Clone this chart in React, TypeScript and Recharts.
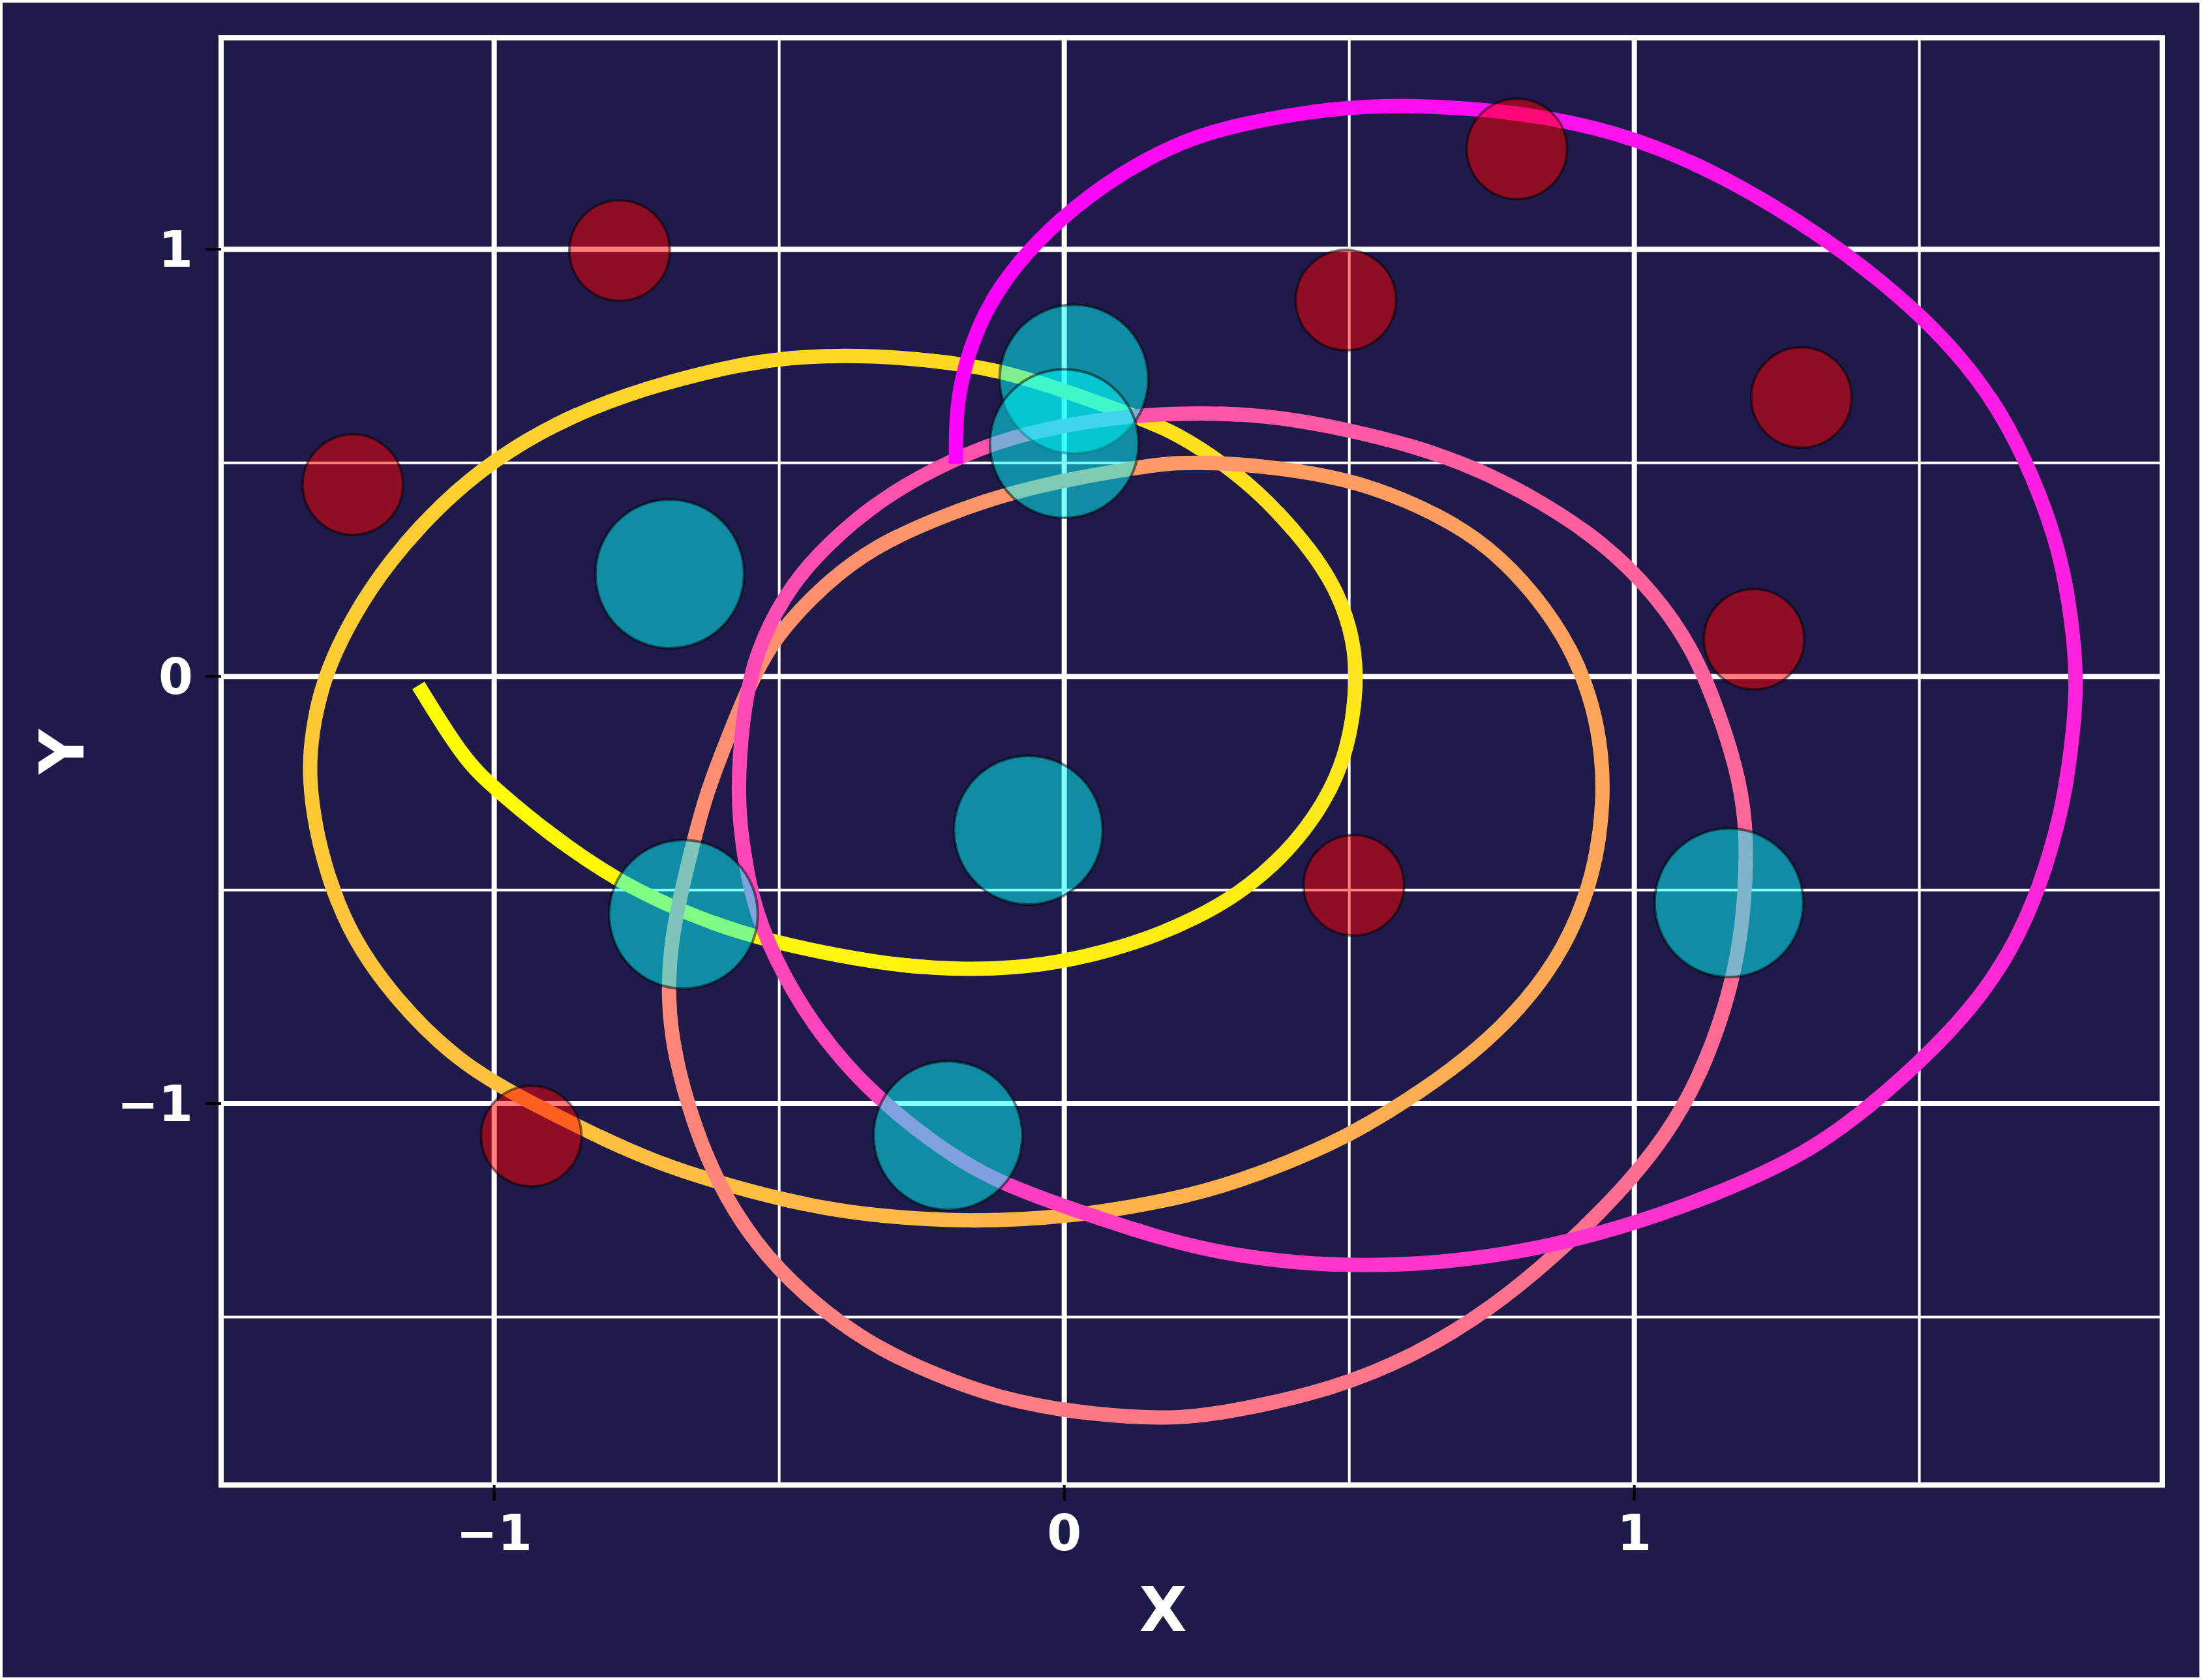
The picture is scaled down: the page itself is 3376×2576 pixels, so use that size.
import React from "react";
import {
  CartesianGrid,
  Label,
  ReferenceArea,
  Scatter,
  ScatterChart,
  XAxis,
  YAxis,
} from "recharts";

// spiral path
const pathX = [
  -1.133, -1.053, -1.0, -0.902, -0.783, -0.662, -0.543, -0.391, -0.283, -0.174,
  -0.065, 0.043, 0.152, 0.227, 0.303, 0.391, 0.459, 0.498, 0.514, 0.508,
  0.481, 0.436, 0.358, 0.281, 0.192, 0.13, 0.0, -0.119, -0.228, -0.358,
  -0.5, -0.63, -0.771, -0.891, -1.0, -1.097, -1.184, -1.249, -1.299, -1.32,
  -1.326,
  -1.31, -1.261, -1.174, -1.065, -0.957, -0.848, -0.717, -0.554, -0.391, -0.228,
  -0.119, 0.043, 0.227, 0.336, 0.469, 0.57, 0.681, 0.769, 0.847, 0.902,
  0.935, 0.946, 0.943, 0.93, 0.891, 0.825, 0.747, 0.658, 0.525, 0.414,
  0.303, 0.192, 0.12, 0.0, -0.119, -0.228, -0.336, -0.42, -0.505, -0.554,
  -0.603,
  -0.63, -0.662, -0.69, -0.696, -0.684, -0.652, -0.609, -0.543, -0.457, -0.348,
  -0.228, -0.109, 0.022, 0.152, 0.227, 0.325, 0.469, 0.613, 0.747, 0.858,
  0.969, 1.057, 1.113, 1.157, 1.185, 1.196, 1.196, 1.18, 1.146, 1.102,
  1.035, 0.946, 0.835, 0.724, 0.613, 0.481, 0.358, 0.237, 0.118, 0.0,
  -0.119, -0.228, -0.326, -0.413, -0.478, -0.532, -0.559, -0.57,
  -0.573, -0.549, -0.51, -0.445, -0.348, -0.228, -0.119, 0.043, 0.192, 0.303,
  0.414, 0.525, 0.658, 0.814, 0.969, 1.135, 1.301, 1.412, 1.523, 1.612,
  1.678, 1.723, 1.751, 1.765, 1.778, 1.767, 1.745, 1.7, 1.645, 1.568,
  1.478, 1.368, 1.246, 1.113, 0.969, 0.814, 0.613, 0.459, 0.303, 0.209,
  0.098, -0.01, -0.087, -0.141, -0.174, -0.19, -0.19,
];

const pathY = [
  -0.021, -0.195, -0.261, -0.371, -0.48, -0.556, -0.612, -0.656, -0.678, -0.687,
  -0.681, -0.656, -0.612, -0.568, -0.513, -0.415, -0.293, -0.173, -0.021, 0.087,
  0.195, 0.292, 0.411, 0.498, 0.573, 0.606, 0.67, 0.719, 0.74, 0.753,
  0.747, 0.713, 0.66, 0.594, 0.508, 0.4, 0.27, 0.14, 0.0, -0.13,
  -0.234,
  -0.392, -0.591, -0.756, -0.9, -0.984, -1.057, -1.14, -1.206, -1.256, -1.273,
  -1.275, -1.261, -1.215, -1.168, -1.096, -1.02, -0.921, -0.821, -0.701, -0.568,
  -0.426, -0.282, -0.188, -0.075, 0.066, 0.195, 0.302, 0.379, 0.453, 0.481,
  0.499, 0.502, 0.487, 0.46, 0.421, 0.368, 0.302, 0.217, 0.098, -0.021,
  -0.188,
  -0.282, -0.447, -0.612, -0.756, -0.887, -1.041, -1.185, -1.328, -1.449, -1.559,
  -1.635, -1.692, -1.724, -1.737, -1.734, -1.713, -1.669, -1.592, -1.482, -1.36,
  -1.218, -1.075, -0.942, -0.789, -0.635, -0.481, -0.337, -0.218, -0.075, 0.066,
  0.195, 0.313, 0.411, 0.487, 0.54, 0.583, 0.611, 0.618, 0.611, 0.589,
  0.551, 0.487, 0.411, 0.313, 0.217, 0.087, -0.043, -0.188,
  -0.325, -0.525, -0.656, -0.811, -0.965, -1.096, -1.185, -1.261, -1.325, -1.356,
  -1.374, -1.38, -1.374, -1.345, -1.295, -1.218, -1.119, -1.009, -0.876, -0.745,
  -0.602, -0.447, -0.304, -0.188, -0.021, 0.14, 0.302, 0.466, 0.617, 0.757,
  0.876, 0.994, 1.102, 1.2, 1.275, 1.319, 1.34, 1.33, 1.292, 1.255,
  1.179, 1.07, 0.962, 0.853, 0.734, 0.627, 0.498,
];

const redX = [-0.78, -1.248, 0.794, 0.494, 1.293, 1.21, 0.508, -0.935];
const redY = [0.997, 0.449, 1.235, 0.881, 0.653, 0.087, -0.489, -1.076];

const cyanX = [-0.692, -0.063, -0.668, -0.204, 1.166, 0.017, 0.0];
const cyanY = [0.24, -0.36, -0.557, -1.075, -0.53, 0.696, 0.545];

const majorTicks = [-1, 0, 1];
const xMinor = [-0.5, 0.5, 1.5];
const yMinor = [-1.5, -0.5, 0.5];
const xDomain = [-1.479, 1.926];
const yDomain = [-1.893, 1.495];

const BG = "#1e1b4b";
const FONT = "DejaVu Sans";
const LINE_W = 22;
const N_BANDS = 64;

// spring_r colormap: yellow -> magenta
const springR = (t: number) =>
  `rgb(255, ${Math.round(255 * (1 - t))}, ${Math.round(255 * t)})`;

const pathData = pathX.map((x, i) => ({ x, y: pathY[i] }));
const redData = redX.map((x, i) => ({ x, y: redY[i] }));
const cyanData = cyanX.map((x, i) => ({ x, y: cyanY[i] }));

// the same smooth path is drawn once per colour band; a dash (pathLength = 1)
// shows only that band's share of the length, so colour follows the arc
const bands = Array.from({ length: N_BANDS }, (_, k) => {
  const start = k / N_BANDS;
  const len = 1 / N_BANDS + (k < N_BANDS - 1 ? 0.002 : 0);
  return {
    color: springR((k + 0.5) / N_BANDS),
    dash: `0 ${start} ${len} 2`,
  };
});

const fmt = (v: number) => (v < 0 ? `\u2212${-v}` : `${v}`);

const NoDot = () => <g />;

const RedDot = (p: any) => (
  <circle
    cx={p.cx}
    cy={p.cy}
    r={77}
    fill="#ff0000"
    fillOpacity={0.5}
    stroke="#000"
    strokeOpacity={0.5}
    strokeWidth={4}
  />
);

const CyanDot = (p: any) => (
  <circle
    cx={p.cx}
    cy={p.cy}
    r={114}
    fill="#00ffff"
    fillOpacity={0.5}
    stroke="#000"
    strokeOpacity={0.5}
    strokeWidth={4}
  />
);

const XLabel = (props: any) => {
  const vb = props.viewBox || { x: 0, y: 0, width: 0, height: 0 };
  return (
    <text
      x={vb.x + vb.width / 2 - 44}
      y={vb.y + 191}
      textAnchor="middle"
      dominantBaseline="central"
      fill="#fff"
      fontSize={95}
      fontWeight="bold"
      fontFamily={FONT}
    >
      X
    </text>
  );
};

const YLabel = (props: any) => {
  const vb = props.viewBox || { x: 0, y: 0, width: 0, height: 0 };
  const cx = vb.x + 91;
  const cy = vb.y + vb.height / 2 - 15;
  return (
    <text
      x={cx}
      y={cy}
      transform={`rotate(-90, ${cx}, ${cy})`}
      textAnchor="middle"
      dominantBaseline="central"
      fill="#fff"
      fontSize={95}
      fontWeight="bold"
      fontFamily={FONT}
    >
      Y
    </text>
  );
};

const tickStyle = { fill: "#fff", fontSize: 76, fontWeight: 700, fontFamily: FONT };

export default function App() {
  return (
    <div
      style={{
        position: "absolute",
        left: 0,
        top: 0,
        width: 3376,
        height: 2576,
        boxSizing: "border-box",
        border: "4px solid #fff",
        background: BG,
      }}
    >
      <ScatterChart
        width={3368}
        height={2568}
        margin={{ top: 54, right: 57, bottom: 0, left: 0 }}
      >
        <CartesianGrid
          stroke="#fff"
          strokeWidth={4}
          horizontalValues={yMinor}
          verticalValues={xMinor}
        />
        <CartesianGrid
          stroke="#fff"
          strokeWidth={8}
          horizontalValues={majorTicks}
          verticalValues={majorTicks}
        />
        <XAxis
          type="number"
          dataKey="x"
          domain={xDomain}
          allowDataOverflow
          ticks={majorTicks}
          interval={0}
          tickFormatter={fmt}
          height={295}
          tickSize={24}
          tickMargin={22}
          tickLine={{ stroke: "#000", strokeWidth: 4 }}
          axisLine={false}
          tick={tickStyle}
        >
          <Label content={<XLabel />} />
        </XAxis>
        <YAxis
          type="number"
          dataKey="y"
          domain={yDomain}
          allowDataOverflow
          ticks={majorTicks}
          interval={0}
          tickFormatter={fmt}
          width={335}
          tickSize={24}
          tickMargin={19}
          tickLine={{ stroke: "#000", strokeWidth: 4 }}
          axisLine={false}
          tick={tickStyle}
        >
          <Label content={<YLabel />} />
        </YAxis>
        {bands.map((b, i) => (
          <Scatter
            key={`band-${i}`}
            data={pathData}
            stroke={b.color}
            strokeWidth={LINE_W}
            line={{
              stroke: b.color,
              strokeWidth: LINE_W,
              strokeLinecap: "butt",
              pathLength: 1,
              strokeDasharray: b.dash,
            }}
            lineJointType="basis"
            shape={NoDot}
            isAnimationActive={false}
          />
        ))}
        <Scatter data={redData} shape={RedDot} isAnimationActive={false} />
        <Scatter data={cyanData} shape={CyanDot} isAnimationActive={false} />
        <ReferenceArea
          x1={xDomain[0]}
          x2={xDomain[1]}
          y1={yDomain[0]}
          y2={yDomain[1]}
          fill="none"
          stroke="#fff"
          strokeWidth={8}
          ifOverflow="visible"
        />
      </ScatterChart>
    </div>
  );
}
